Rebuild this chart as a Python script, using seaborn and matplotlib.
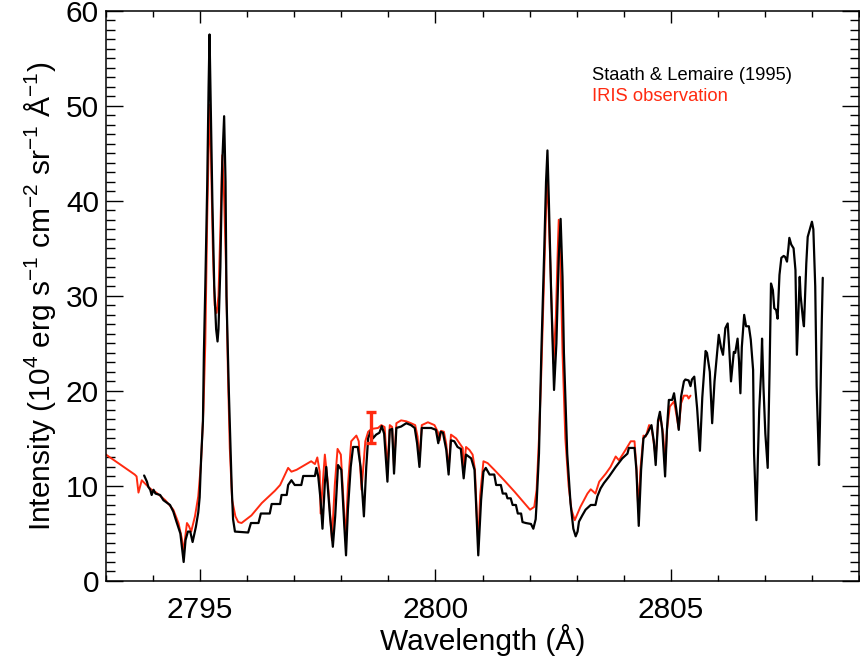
import matplotlib
matplotlib.use("Agg")
import matplotlib.pyplot as plt
from matplotlib.ticker import MultipleLocator
import seaborn as sns
import pandas as pd

# Staath & Lemaire (1995) reference spectrum
sl_wave = [2793.81, 2793.87, 2793.90, 2793.94, 2793.97, 2794.01, 2794.05, 2794.15, 2794.22, 2794.36,
           2794.43, 2794.50, 2794.58, 2794.65, 2794.69, 2794.74, 2794.79, 2794.84, 2794.91, 2794.96,
           2794.99, 2795.02, 2795.06, 2795.08, 2795.11, 2795.15, 2795.18, 2795.20, 2795.225, 2795.26,
           2795.30, 2795.34, 2795.37, 2795.39, 2795.43, 2795.47, 2795.51, 2795.54, 2795.56, 2795.61,
           2795.67, 2795.70, 2795.74, 2796.02,
           2796.08, 2796.24, 2796.29, 2796.48, 2796.52, 2796.70, 2796.73, 2796.84, 2796.87, 2796.94,
           2797.01, 2797.15, 2797.19, 2797.44, 2797.47, 2797.51, 2797.56, 2797.60, 2797.65, 2797.68,
           2797.76, 2797.82, 2797.87, 2797.93, 2798.00, 2798.06, 2798.10, 2798.14, 2798.20, 2798.25,
           2798.35, 2798.41, 2798.48, 2798.53, 2798.57, 2798.64, 2798.67, 2798.74, 2798.81, 2798.86,
           2798.91, 2798.98, 2799.03, 2799.08, 2799.12, 2799.17, 2799.27, 2799.38, 2799.48, 2799.56,
           2799.61, 2799.66, 2799.71, 2799.91, 2800.01, 2800.06, 2800.11, 2800.16, 2800.23, 2800.28,
           2800.33, 2800.40, 2800.47, 2800.54, 2800.60, 2800.65, 2800.76, 2800.83, 2800.86, 2800.91,
           2800.97, 2801.02, 2801.07, 2801.15, 2801.25, 2801.29, 2801.39, 2801.43, 2801.50, 2801.53,
           2801.60, 2801.64, 2801.71, 2801.75, 2801.82, 2801.85, 2801.92, 2802.03, 2802.08, 2802.13,
           2802.15, 2802.20, 2802.25, 2802.31, 2802.35, 2802.38, 2802.41, 2802.46, 2802.52, 2802.57,
           2802.62, 2802.66, 2802.70, 2802.73, 2802.80, 2802.87, 2802.93, 2802.98, 2803.02, 2803.05,
           2803.12, 2803.19, 2803.30, 2803.40, 2803.44, 2803.51, 2803.58, 2803.69, 2803.83, 2803.97,
           2804.08, 2804.11, 2804.23, 2804.27, 2804.32, 2804.37, 2804.42, 2804.50, 2804.59, 2804.64,
           2804.68, 2804.73, 2804.77, 2804.82, 2804.88, 2804.92, 2804.96, 2805.03, 2805.07, 2805.12,
           2805.17, 2805.22, 2805.28, 2805.31, 2805.38, 2805.42, 2805.45, 2805.50, 2805.56, 2805.62,
           2805.67, 2805.74, 2805.77, 2805.83, 2805.88, 2805.93, 2806.02, 2806.07, 2806.11, 2806.16,
           2806.21, 2806.24, 2806.28, 2806.34, 2806.37, 2806.42, 2806.45, 2806.48, 2806.51, 2806.56,
           2806.60, 2806.66, 2806.70, 2806.75, 2806.77, 2806.82, 2806.85, 2806.88, 2806.92, 2806.94,
           2806.97, 2807.01, 2807.06, 2807.10, 2807.13, 2807.17, 2807.20, 2807.24, 2807.27, 2807.31,
           2807.35, 2807.40, 2807.43, 2807.47, 2807.50, 2807.52, 2807.56, 2807.61, 2807.65, 2807.68,
           2807.72, 2807.74, 2807.76, 2807.81, 2807.83, 2807.88, 2807.91, 2807.96, 2808.00, 2808.03,
           2808.07, 2808.10, 2808.15, 2808.17, 2808.21, 2808.23]
sl_int = [11.1, 10.45, 9.9, 9.6, 9.05, 9.6, 9.2, 9.05, 8.5, 8.0,
          7.3, 6.2, 5.0, 2.0, 4.3, 5.2, 5.2, 4.1, 5.7, 7.2,
          8.8, 12.8, 16.8, 24.0, 31.0, 41.5, 52.0, 57.5, 50.0, 40.0,
          31.0, 26.5, 25.2, 26.5, 33.0, 44.0, 48.9, 42.0, 30.0, 20.0,
          10.0, 6.5, 5.2, 5.1,
          6.1, 6.1, 7.1, 7.1, 8.1, 8.1, 9.05, 9.05, 10.1, 10.6,
          10.1, 10.1, 11.05, 11.05, 11.9, 11.0, 8.5, 5.5, 10.3, 12.0,
          6.8, 3.6, 6.8, 12.2, 11.7, 6.1, 2.7, 7.5, 12.0, 14.1,
          14.1, 12.0, 6.8, 12.0, 15.0, 16.0, 15.0, 15.4, 15.6, 16.3,
          15.5, 10.45, 15.9, 16.0, 11.3, 16.1, 16.25, 16.6, 16.4, 16.1,
          14.5, 12.0, 16.1, 16.1, 15.9, 14.5, 15.7, 15.6, 13.8, 11.2,
          14.8, 14.7, 14.1, 13.9, 10.8, 13.3, 12.9, 11.7, 8.5, 2.7,
          8.5, 11.5, 11.9, 11.2, 11.2, 10.1, 10.1, 9.2, 9.2, 8.7,
          8.7, 8.0, 8.0, 7.1, 7.1, 6.2, 6.1, 6.0, 5.5, 6.5,
          8.2, 13.4, 24.0, 34.5, 42.0, 45.3, 40.0, 30.0, 20.1, 25.0,
          34.0, 38.1, 32.0, 24.0, 13.4, 8.2, 5.5, 4.7, 5.2, 6.25,
          6.9, 7.5, 8.0, 8.0, 8.9, 9.75, 10.3, 11.0, 12.0, 12.9,
          13.4, 14.0, 14.0, 11.7, 5.8, 11.7, 15.0, 15.5, 16.4, 14.7,
          12.2, 16.9, 17.8, 15.9, 11.0, 16.0, 19.05, 19.05, 19.75, 18.0,
          15.9, 19.4, 21.0, 21.2, 21.1, 20.5, 21.2, 21.5, 18.2, 13.7,
          19.3, 24.2, 24.0, 22.0, 16.6, 21.0, 25.9, 24.5, 23.8, 26.6,
          27.1, 24.7, 21.0, 24.1, 24.0, 25.5, 23.2, 19.75, 24.6, 28.0,
          26.8, 26.8, 25.4, 22.2, 13.4, 6.4, 12.7, 18.0, 22.0, 25.5,
          20.4, 15.5, 11.9, 22.2, 31.3, 30.6, 28.7, 28.5, 27.6, 32.2,
          34.0, 34.2, 34.1, 33.6, 35.0, 36.1, 35.4, 35.0, 32.7, 23.8,
          29.4, 32.0, 30.0, 27.5, 26.8, 33.4, 36.2, 37.1, 37.8, 37.0,
          31.0, 20.5, 12.2, 16.5, 27.5, 31.9]

# IRIS observation
iris_wave = [2792.97, 2793.61, 2793.65, 2793.69, 2793.76, 2793.82, 2793.90, 2793.97, 2794.07, 2794.26,
             2794.43, 2794.54, 2794.61, 2794.65, 2794.68, 2794.72, 2794.76, 2794.81, 2794.89, 2794.96,
             2795.02, 2795.07, 2795.11, 2795.15, 2795.20, 2795.23, 2795.27, 2795.31, 2795.35, 2795.39,
             2795.43, 2795.47, 2795.50, 2795.55, 2795.59, 2795.63, 2795.68, 2795.75, 2795.81, 2795.88,
             2796.09, 2796.31, 2796.59, 2796.70, 2796.87, 2796.94, 2797.05, 2797.36, 2797.44, 2797.49,
             2797.54, 2797.56, 2797.65, 2797.72, 2797.80, 2797.86, 2797.92, 2797.99, 2798.04, 2798.09,
             2798.14, 2798.21, 2798.32, 2798.37, 2798.43, 2798.51, 2798.57, 2798.64, 2798.78, 2798.85,
             2798.92, 2798.98, 2799.03, 2799.08, 2799.12, 2799.17, 2799.27, 2799.38, 2799.48, 2799.57,
             2799.62, 2799.66, 2799.71, 2799.84, 2799.98, 2800.05, 2800.09, 2800.12, 2800.18, 2800.23,
             2800.28, 2800.33, 2800.44, 2800.51, 2800.58, 2800.60, 2800.65, 2800.72, 2800.79, 2800.84,
             2800.88, 2800.91, 2800.95, 2801.02, 2801.11, 2801.25, 2801.46, 2801.68, 2801.89, 2802.01,
             2802.10, 2802.15, 2802.20, 2802.25, 2802.31, 2802.35, 2802.38, 2802.41, 2802.46, 2802.51,
             2802.56, 2802.60, 2802.62, 2802.66, 2802.70, 2802.76, 2802.83, 2802.89, 2802.96, 2803.08,
             2803.23, 2803.30, 2803.40, 2803.48, 2803.62, 2803.72, 2803.83, 2803.90, 2804.04, 2804.15,
             2804.23, 2804.27, 2804.31, 2804.36, 2804.42, 2804.47, 2804.54, 2804.59, 2804.64, 2804.68,
             2804.73, 2804.78, 2804.84, 2804.88, 2804.92, 2804.98, 2805.07, 2805.12, 2805.17, 2805.22,
             2805.28, 2805.35, 2805.38, 2805.42]
iris_int = [13.4, 11.2, 11.0, 9.3, 10.6, 10.3, 9.9, 9.6, 9.3, 8.5,
            7.5, 6.1, 4.5, 3.0, 4.5, 6.1, 5.8, 5.2, 6.8, 8.9,
            12.5, 18.0, 25.0, 38.0, 50.1, 45.0, 35.0, 29.0, 28.2, 30.0,
            37.0, 44.8, 42.0, 33.0, 22.0, 14.0, 8.5, 6.8, 6.2, 6.1,
            6.9, 8.2, 9.5, 10.1, 11.9, 11.5, 11.7, 12.6, 12.3, 13.0,
            11.5, 7.1, 13.3, 10.0, 4.3, 10.0, 13.9, 13.3, 9.0, 4.3,
            10.0, 14.7, 15.3, 14.7, 9.6, 14.7, 15.7, 16.0, 16.1, 16.4,
            16.2, 11.7, 16.4, 16.2, 12.0, 16.6, 16.9, 16.8, 16.6, 16.4,
            15.2, 12.6, 16.4, 16.7, 16.4, 15.7, 14.8, 15.8, 15.7, 14.4,
            11.7, 15.4, 15.0, 14.5, 14.0, 11.7, 14.1, 13.8, 13.3, 11.7,
            6.8, 4.0, 9.0, 12.6, 12.4, 11.7, 10.6, 9.4, 8.2, 7.5,
            7.8, 9.6, 15.0, 22.0, 32.0, 39.0, 42.6, 38.0, 30.0, 22.9,
            28.0, 35.0, 38.0, 33.0, 24.0, 15.0, 10.0, 7.5, 6.4, 7.8,
            9.2, 9.65, 9.2, 10.45, 11.3, 12.0, 13.1, 12.7, 13.8, 14.7,
            14.7, 12.0, 7.5, 12.0, 15.3, 15.2, 16.4, 16.2, 14.5, 13.0,
            16.7, 17.3, 15.4, 12.0, 15.9, 18.35, 18.9, 17.5, 16.0, 18.7,
            19.5, 19.5, 19.2, 19.5]

# representative IRIS error bar
err_wave = [2798.64]
err_int = [16.15]
err_size = [1.65]

labels = ["Staath & Lemaire (1995)", "IRIS observation"]
colors = ["black", "#ff2a10"]

sns.set_style("ticks")
plt.rcParams["font.family"] = ["Liberation Sans", "DejaVu Sans"]
plt.rcParams["mathtext.fontset"] = "custom"
plt.rcParams["mathtext.rm"] = "Liberation Sans"
plt.rcParams["mathtext.it"] = "Liberation Sans:italic"
plt.rcParams["mathtext.bf"] = "Liberation Sans:bold"
plt.rcParams["text.color"] = "black"
plt.rcParams["axes.labelcolor"] = "black"
plt.rcParams["xtick.color"] = "black"
plt.rcParams["ytick.color"] = "black"

fig = plt.figure(figsize=(8.6, 6.63), dpi=100)
ax = fig.add_axes([106 / 860, 1 - 581 / 663, 753 / 860, 570.3 / 663])

df_sl = pd.DataFrame({"wave": sl_wave, "inten": sl_int})
df_iris = pd.DataFrame({"wave": iris_wave, "inten": iris_int})

sns.lineplot(data=df_iris, x="wave", y="inten", color=colors[1], lw=1.4,
             estimator=None, sort=False, ax=ax)
sns.lineplot(data=df_sl, x="wave", y="inten", color=colors[0], lw=1.6,
             estimator=None, sort=False, ax=ax)
ax.errorbar(err_wave, err_int, yerr=err_size, fmt="none", ecolor=colors[1],
            elinewidth=2.4, capsize=3.8, capthick=2.4, zorder=5)

ax.set_xlim(2793, 2809)
ax.set_ylim(0, 60)
ax.xaxis.set_major_locator(MultipleLocator(5))
ax.xaxis.set_minor_locator(MultipleLocator(1))
ax.yaxis.set_major_locator(MultipleLocator(10))
ax.yaxis.set_minor_locator(MultipleLocator(1))

ax.tick_params(axis="both", which="both", direction="in", top=True, right=True,
               color="black", labelcolor="black", labelsize=21.5, width=1.0)
ax.tick_params(axis="x", which="major", length=8.5, pad=11)
ax.tick_params(axis="x", which="minor", length=4.3)
ax.tick_params(axis="y", which="major", length=12.5, pad=5)
ax.tick_params(axis="y", which="minor", length=6.5)
for sp in ax.spines.values():
    sp.set_color("black")
    sp.set_linewidth(1.1)

ax.set_xlabel("Wavelength (Å)", fontsize=21.5, color="black")
ax.set_ylabel(r"Intensity (10$^{4}$ erg s$^{-1}$ cm$^{-2}$ sr$^{-1}$ Å$^{-1}$)",
              fontsize=21.5, color="black")
ax.xaxis.set_label_coords(0.5, -0.076)
ax.yaxis.set_label_coords(-0.064, 0.5)

ax.text(0.6454, 0.8785, labels[0], transform=ax.transAxes, fontsize=13.2,
        color=colors[0], va="baseline", ha="left")
ax.text(0.6454, 0.8417, labels[1], transform=ax.transAxes, fontsize=13.2,
        color=colors[1], va="baseline", ha="left")

fig.savefig("out.png", dpi=100)
